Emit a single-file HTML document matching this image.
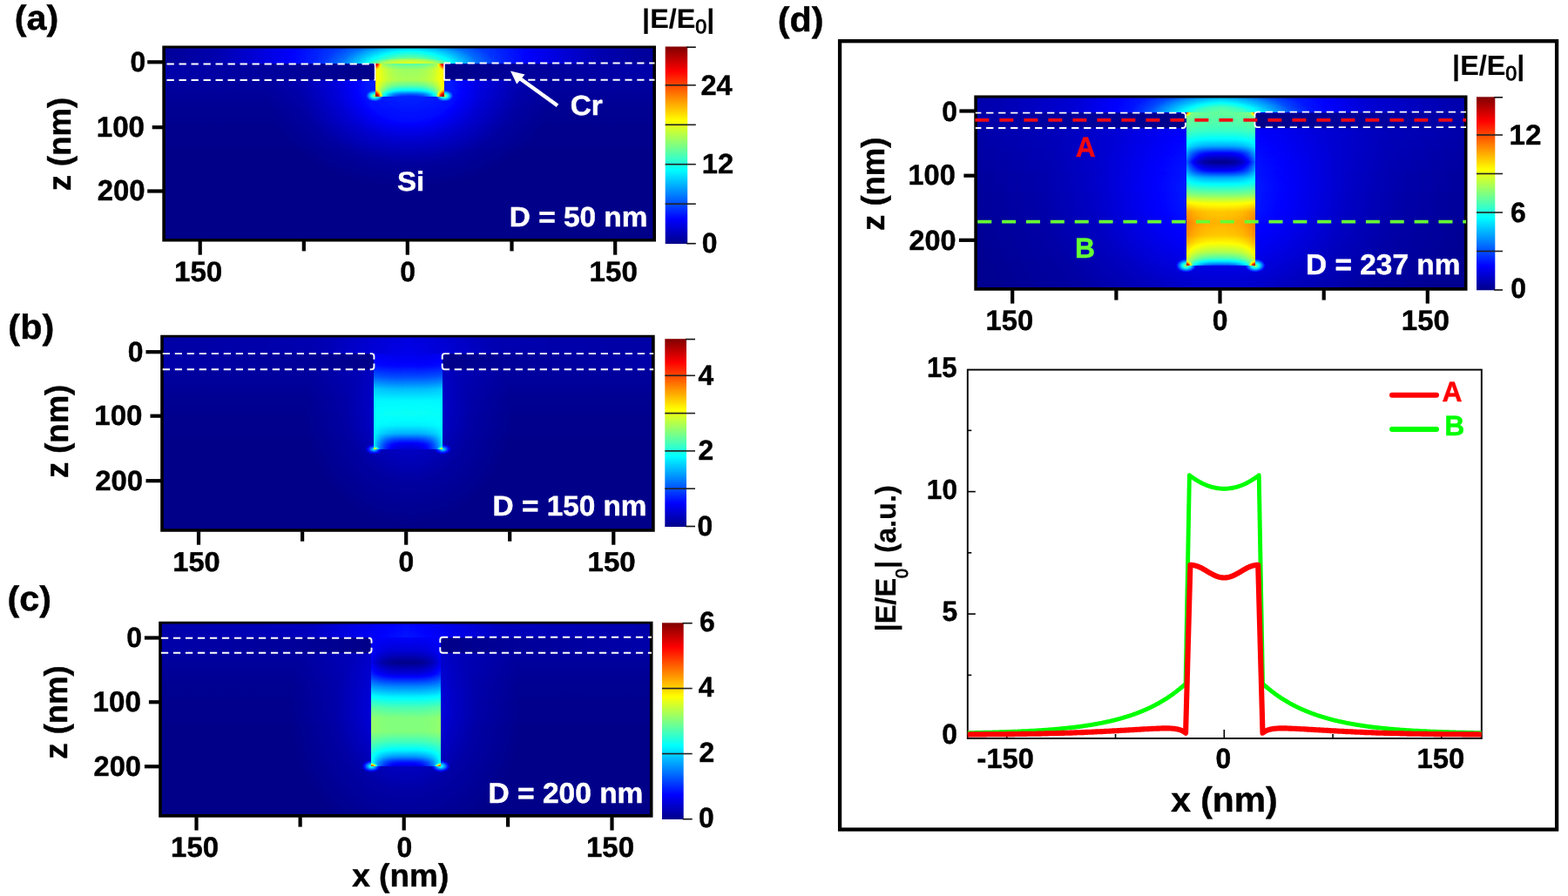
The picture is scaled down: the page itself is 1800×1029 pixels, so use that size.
<!DOCTYPE html>
<html lang="en"><head><meta charset="utf-8"><title>Figure</title>
<style>html,body{margin:0;padding:0;background:#fff;}body{width:1800px;height:1029px;overflow:hidden;font-family:"Liberation Sans",Arial,sans-serif;}svg{display:block;}</style>
</head><body>
<svg width="1800" height="1029" viewBox="0 0 1800 1029">
<defs>
<filter id="jet" x="0" y="0" width="100%" height="100%" filterUnits="objectBoundingBox" color-interpolation-filters="sRGB">
<feComponentTransfer><feFuncR type="table" tableValues="0.000 0.000 0.000 0.000 0.000 0.000 0.000 0.000 0.000 0.000 0.000 0.000 0.000 0.000 0.000 0.000 0.000 0.000 0.000 0.000 0.000 0.000 0.000 0.000 0.000 0.062 0.125 0.188 0.250 0.312 0.375 0.438 0.500 0.562 0.625 0.688 0.750 0.812 0.875 0.938 1.000 1.000 1.000 1.000 1.000 1.000 1.000 1.000 1.000 1.000 1.000 1.000 1.000 1.000 1.000 1.000 1.000 0.938 0.875 0.812 0.750 0.688 0.625 0.562 0.500"/><feFuncG type="table" tableValues="0.000 0.000 0.000 0.000 0.000 0.000 0.000 0.000 0.000 0.062 0.125 0.188 0.250 0.312 0.375 0.438 0.500 0.562 0.625 0.688 0.750 0.812 0.875 0.938 1.000 1.000 1.000 1.000 1.000 1.000 1.000 1.000 1.000 1.000 1.000 1.000 1.000 1.000 1.000 1.000 1.000 0.938 0.875 0.812 0.750 0.688 0.625 0.562 0.500 0.438 0.375 0.312 0.250 0.188 0.125 0.062 0.000 0.000 0.000 0.000 0.000 0.000 0.000 0.000 0.000"/><feFuncB type="table" tableValues="0.540 0.598 0.655 0.713 0.770 0.828 0.885 0.943 1.000 1.000 1.000 1.000 1.000 1.000 1.000 1.000 1.000 1.000 1.000 1.000 1.000 1.000 1.000 1.000 1.000 0.938 0.875 0.812 0.750 0.688 0.625 0.562 0.500 0.438 0.375 0.312 0.250 0.188 0.125 0.062 0.000 0.000 0.000 0.000 0.000 0.000 0.000 0.000 0.000 0.000 0.000 0.000 0.000 0.000 0.000 0.000 0.000 0.000 0.000 0.000 0.000 0.000 0.000 0.000 0.000"/></feComponentTransfer></filter>
<filter id="b1" x="-20%" y="-20%" width="140%" height="140%"><feGaussianBlur stdDeviation="1"/></filter>
<filter id="b2" x="-20%" y="-20%" width="140%" height="140%"><feGaussianBlur stdDeviation="2.5"/></filter>
<linearGradient id="cb" x1="0" y1="1" x2="0" y2="0"><stop offset="0.0000" stop-color="#00008a"/><stop offset="0.0625" stop-color="#0000c4"/><stop offset="0.1250" stop-color="#0000ff"/><stop offset="0.1875" stop-color="#0040ff"/><stop offset="0.2500" stop-color="#0080ff"/><stop offset="0.3125" stop-color="#00bfff"/><stop offset="0.3750" stop-color="#00ffff"/><stop offset="0.4375" stop-color="#40ffbf"/><stop offset="0.5000" stop-color="#80ff80"/><stop offset="0.5625" stop-color="#bfff40"/><stop offset="0.6250" stop-color="#ffff00"/><stop offset="0.6875" stop-color="#ffbf00"/><stop offset="0.7500" stop-color="#ff8000"/><stop offset="0.8125" stop-color="#ff4000"/><stop offset="0.8750" stop-color="#ff0000"/><stop offset="0.9375" stop-color="#bf0000"/><stop offset="1.0000" stop-color="#800000"/></linearGradient>
<clipPath id="clipa"><rect x="188.1" y="54.3" width="563.1" height="221.4"/></clipPath>
<clipPath id="cha"><rect x="431" y="73" width="79" height="38"/></clipPath>
<linearGradient id="vsa" gradientUnits="userSpaceOnUse" x1="0" y1="73.3" x2="0" y2="110.7"><stop offset="0.0000" stop-color="rgb(158,158,158)"/><stop offset="0.1791" stop-color="rgb(166,166,166)"/><stop offset="0.5000" stop-color="rgb(166,166,166)"/><stop offset="0.6872" stop-color="rgb(166,166,166)"/><stop offset="0.8209" stop-color="rgb(168,168,168)"/><stop offset="0.9278" stop-color="rgb(171,171,171)"/><stop offset="1.0000" stop-color="rgb(171,171,171)"/></linearGradient>
<linearGradient id="vca" gradientUnits="userSpaceOnUse" x1="0" y1="73.3" x2="0" y2="110.7"><stop offset="0.0000" stop-color="rgb(117,117,117)"/><stop offset="0.1791" stop-color="rgb(135,135,135)"/><stop offset="0.5000" stop-color="rgb(138,138,138)"/><stop offset="0.6872" stop-color="rgb(117,117,117)"/><stop offset="0.8209" stop-color="rgb(92,92,92)"/><stop offset="0.9278" stop-color="rgb(56,56,56)"/><stop offset="1.0000" stop-color="rgb(41,41,41)"/></linearGradient>
<linearGradient id="mha" gradientUnits="userSpaceOnUse" x1="430.6" y1="0" x2="509.8" y2="0"><stop offset="0.00" stop-color="rgb(0,0,0)"/><stop offset="0.05" stop-color="rgb(69,69,69)"/><stop offset="0.10" stop-color="rgb(124,124,124)"/><stop offset="0.15" stop-color="rgb(168,168,168)"/><stop offset="0.20" stop-color="rgb(200,200,200)"/><stop offset="0.25" stop-color="rgb(223,223,223)"/><stop offset="0.30" stop-color="rgb(239,239,239)"/><stop offset="0.35" stop-color="rgb(248,248,248)"/><stop offset="0.40" stop-color="rgb(253,253,253)"/><stop offset="0.45" stop-color="rgb(255,255,255)"/><stop offset="0.50" stop-color="rgb(255,255,255)"/><stop offset="0.55" stop-color="rgb(255,255,255)"/><stop offset="0.60" stop-color="rgb(253,253,253)"/><stop offset="0.65" stop-color="rgb(248,248,248)"/><stop offset="0.70" stop-color="rgb(239,239,239)"/><stop offset="0.75" stop-color="rgb(223,223,223)"/><stop offset="0.80" stop-color="rgb(200,200,200)"/><stop offset="0.85" stop-color="rgb(168,168,168)"/><stop offset="0.90" stop-color="rgb(124,124,124)"/><stop offset="0.95" stop-color="rgb(69,69,69)"/><stop offset="1.00" stop-color="rgb(0,0,0)"/></linearGradient>
<mask id="ma" maskUnits="userSpaceOnUse" x="427.6" y="70.3" width="85.2" height="43.4"><rect x="427.6" y="70.3" width="85.2" height="43.4" fill="url(#mha)"/></mask>
<linearGradient id="q1" x1="0" y1="0" x2="1" y2="0"><stop offset="0" stop-color="#fff" stop-opacity="0.015"/><stop offset="0.11" stop-color="#fff" stop-opacity="0.04"/><stop offset="0.22" stop-color="#fff" stop-opacity="0.1"/><stop offset="0.33" stop-color="#fff" stop-opacity="0.15"/><stop offset="0.5" stop-color="#fff" stop-opacity="0.17"/><stop offset="0.67" stop-color="#fff" stop-opacity="0.15"/><stop offset="0.78" stop-color="#fff" stop-opacity="0.1"/><stop offset="0.89" stop-color="#fff" stop-opacity="0.04"/><stop offset="1" stop-color="#fff" stop-opacity="0.015"/></linearGradient>
<radialGradient id="q2"><stop offset="0" stop-color="#fff" stop-opacity="0.34"/><stop offset="0.3" stop-color="#fff" stop-opacity="0.28"/><stop offset="0.55" stop-color="#fff" stop-opacity="0.15"/><stop offset="0.8" stop-color="#fff" stop-opacity="0.04"/><stop offset="1" stop-color="#fff" stop-opacity="0"/></radialGradient>
<radialGradient id="q3"><stop offset="0" stop-color="#fff" stop-opacity="0.2"/><stop offset="0.6" stop-color="#fff" stop-opacity="0.16"/><stop offset="0.85" stop-color="#fff" stop-opacity="0.08"/><stop offset="1" stop-color="#fff" stop-opacity="0"/></radialGradient>
<linearGradient id="q4" x1="0" y1="0" x2="0" y2="1"><stop offset="0" stop-color="#fff" stop-opacity="0.025"/><stop offset="0.2" stop-color="#fff" stop-opacity="0.008"/><stop offset="0.5" stop-color="#fff" stop-opacity="0"/></linearGradient>
<radialGradient id="q5"><stop offset="0" stop-color="#fff" stop-opacity="0.15"/><stop offset="0.3" stop-color="#fff" stop-opacity="0.13"/><stop offset="0.5" stop-color="#fff" stop-opacity="0.07"/><stop offset="0.75" stop-color="#fff" stop-opacity="0.02"/><stop offset="1" stop-color="#fff" stop-opacity="0"/></radialGradient>
<radialGradient id="q6"><stop offset="0" stop-color="#fff" stop-opacity="0.5"/><stop offset="0.5" stop-color="#fff" stop-opacity="0.22"/><stop offset="1" stop-color="#fff" stop-opacity="0"/></radialGradient>
<radialGradient id="q7"><stop offset="0" stop-color="#fff" stop-opacity="0.5"/><stop offset="0.5" stop-color="#fff" stop-opacity="0.22"/><stop offset="1" stop-color="#fff" stop-opacity="0"/></radialGradient>
<linearGradient id="fla" gradientUnits="userSpaceOnUse" x1="186.3" y1="0" x2="753" y2="0"><stop offset="0" stop-color="rgb(9,9,9)"/><stop offset="0.3" stop-color="rgb(4,4,4)"/><stop offset="0.42" stop-color="rgb(0,0,0)"/><stop offset="0.58" stop-color="rgb(0,0,0)"/><stop offset="0.7" stop-color="rgb(4,4,4)"/><stop offset="1" stop-color="rgb(9,9,9)"/></linearGradient>
<radialGradient id="sa0"><stop offset="0" stop-color="#fff" stop-opacity="0.85"/><stop offset="0.3" stop-color="#fff" stop-opacity="0.7224999999999999"/><stop offset="0.6" stop-color="#fff" stop-opacity="0.34"/><stop offset="1" stop-color="#fff" stop-opacity="0"/></radialGradient>
<radialGradient id="sa1"><stop offset="0" stop-color="#fff" stop-opacity="0.85"/><stop offset="0.3" stop-color="#fff" stop-opacity="0.7224999999999999"/><stop offset="0.6" stop-color="#fff" stop-opacity="0.34"/><stop offset="1" stop-color="#fff" stop-opacity="0"/></radialGradient>
<radialGradient id="sa2"><stop offset="0" stop-color="#fff" stop-opacity="1"/><stop offset="0.3" stop-color="#fff" stop-opacity="0.85"/><stop offset="0.6" stop-color="#fff" stop-opacity="0.4"/><stop offset="1" stop-color="#fff" stop-opacity="0"/></radialGradient>
<radialGradient id="sa3"><stop offset="0" stop-color="#fff" stop-opacity="1"/><stop offset="0.3" stop-color="#fff" stop-opacity="0.85"/><stop offset="0.6" stop-color="#fff" stop-opacity="0.4"/><stop offset="1" stop-color="#fff" stop-opacity="0"/></radialGradient>
<clipPath id="clipb"><rect x="186" y="386.5" width="563.9" height="222.5"/></clipPath>
<clipPath id="chb"><rect x="429" y="406" width="79" height="110"/></clipPath>
<linearGradient id="vsb" gradientUnits="userSpaceOnUse" x1="0" y1="406.2" x2="0" y2="516.4"><stop offset="0.0000" stop-color="rgb(28,28,28)"/><stop offset="0.1252" stop-color="rgb(36,36,36)"/><stop offset="0.2432" stop-color="rgb(56,56,56)"/><stop offset="0.3702" stop-color="rgb(84,84,84)"/><stop offset="0.4882" stop-color="rgb(94,94,94)"/><stop offset="0.6243" stop-color="rgb(97,97,97)"/><stop offset="0.7423" stop-color="rgb(97,97,97)"/><stop offset="0.8330" stop-color="rgb(94,94,94)"/><stop offset="0.8966" stop-color="rgb(92,92,92)"/><stop offset="0.9419" stop-color="rgb(92,92,92)"/><stop offset="1.0000" stop-color="rgb(92,92,92)"/></linearGradient>
<linearGradient id="vcb" gradientUnits="userSpaceOnUse" x1="0" y1="406.2" x2="0" y2="516.4"><stop offset="0.0000" stop-color="rgb(26,26,26)"/><stop offset="0.1252" stop-color="rgb(33,33,33)"/><stop offset="0.2432" stop-color="rgb(51,51,51)"/><stop offset="0.3702" stop-color="rgb(79,79,79)"/><stop offset="0.4882" stop-color="rgb(94,94,94)"/><stop offset="0.6243" stop-color="rgb(98,98,98)"/><stop offset="0.7423" stop-color="rgb(93,93,93)"/><stop offset="0.8330" stop-color="rgb(76,76,76)"/><stop offset="0.8966" stop-color="rgb(46,46,46)"/><stop offset="0.9419" stop-color="rgb(28,28,28)"/><stop offset="1.0000" stop-color="rgb(20,20,20)"/></linearGradient>
<linearGradient id="mhb" gradientUnits="userSpaceOnUse" x1="429.3" y1="0" x2="508.4" y2="0"><stop offset="0.00" stop-color="rgb(0,0,0)"/><stop offset="0.05" stop-color="rgb(69,69,69)"/><stop offset="0.10" stop-color="rgb(124,124,124)"/><stop offset="0.15" stop-color="rgb(168,168,168)"/><stop offset="0.20" stop-color="rgb(200,200,200)"/><stop offset="0.25" stop-color="rgb(223,223,223)"/><stop offset="0.30" stop-color="rgb(239,239,239)"/><stop offset="0.35" stop-color="rgb(248,248,248)"/><stop offset="0.40" stop-color="rgb(253,253,253)"/><stop offset="0.45" stop-color="rgb(255,255,255)"/><stop offset="0.50" stop-color="rgb(255,255,255)"/><stop offset="0.55" stop-color="rgb(255,255,255)"/><stop offset="0.60" stop-color="rgb(253,253,253)"/><stop offset="0.65" stop-color="rgb(248,248,248)"/><stop offset="0.70" stop-color="rgb(239,239,239)"/><stop offset="0.75" stop-color="rgb(223,223,223)"/><stop offset="0.80" stop-color="rgb(200,200,200)"/><stop offset="0.85" stop-color="rgb(168,168,168)"/><stop offset="0.90" stop-color="rgb(124,124,124)"/><stop offset="0.95" stop-color="rgb(69,69,69)"/><stop offset="1.00" stop-color="rgb(0,0,0)"/></linearGradient>
<mask id="mb" maskUnits="userSpaceOnUse" x="426.3" y="403.2" width="85.1" height="116.2"><rect x="426.3" y="403.2" width="85.1" height="116.2" fill="url(#mhb)"/></mask>
<linearGradient id="q8" x1="0" y1="0" x2="1" y2="0"><stop offset="0" stop-color="#fff" stop-opacity="0.03"/><stop offset="0.3" stop-color="#fff" stop-opacity="0.04"/><stop offset="0.5" stop-color="#fff" stop-opacity="0.075"/><stop offset="0.7" stop-color="#fff" stop-opacity="0.04"/><stop offset="1" stop-color="#fff" stop-opacity="0.03"/></linearGradient>
<linearGradient id="q9" x1="0" y1="0" x2="0" y2="1"><stop offset="0" stop-color="#fff" stop-opacity="0.025"/><stop offset="0.2" stop-color="#fff" stop-opacity="0.008"/><stop offset="0.5" stop-color="#fff" stop-opacity="0"/></linearGradient>
<radialGradient id="q10"><stop offset="0" stop-color="#fff" stop-opacity="0.075"/><stop offset="0.3" stop-color="#fff" stop-opacity="0.065"/><stop offset="0.6" stop-color="#fff" stop-opacity="0.025"/><stop offset="1" stop-color="#fff" stop-opacity="0"/></radialGradient>
<radialGradient id="q11"><stop offset="0" stop-color="#fff" stop-opacity="0.35"/><stop offset="0.5" stop-color="#fff" stop-opacity="0.15"/><stop offset="1" stop-color="#fff" stop-opacity="0"/></radialGradient>
<radialGradient id="q12"><stop offset="0" stop-color="#fff" stop-opacity="0.35"/><stop offset="0.5" stop-color="#fff" stop-opacity="0.15"/><stop offset="1" stop-color="#fff" stop-opacity="0"/></radialGradient>
<linearGradient id="flb" gradientUnits="userSpaceOnUse" x1="184.2" y1="0" x2="751.7" y2="0"><stop offset="0" stop-color="rgb(9,9,9)"/><stop offset="0.3" stop-color="rgb(4,4,4)"/><stop offset="0.42" stop-color="rgb(0,0,0)"/><stop offset="0.58" stop-color="rgb(0,0,0)"/><stop offset="0.7" stop-color="rgb(4,4,4)"/><stop offset="1" stop-color="rgb(9,9,9)"/></linearGradient>
<radialGradient id="sb0"><stop offset="0" stop-color="#fff" stop-opacity="0.5"/><stop offset="0.3" stop-color="#fff" stop-opacity="0.425"/><stop offset="0.6" stop-color="#fff" stop-opacity="0.2"/><stop offset="1" stop-color="#fff" stop-opacity="0"/></radialGradient>
<radialGradient id="sb1"><stop offset="0" stop-color="#fff" stop-opacity="0.5"/><stop offset="0.3" stop-color="#fff" stop-opacity="0.425"/><stop offset="0.6" stop-color="#fff" stop-opacity="0.2"/><stop offset="1" stop-color="#fff" stop-opacity="0"/></radialGradient>
<clipPath id="clipc"><rect x="184" y="715.5" width="563.7" height="221.4"/></clipPath>
<clipPath id="chc"><rect x="426" y="732" width="80" height="148"/></clipPath>
<linearGradient id="vsc" gradientUnits="userSpaceOnUse" x1="0" y1="732.5" x2="0" y2="880.4"><stop offset="0.0000" stop-color="rgb(31,31,31)"/><stop offset="0.1048" stop-color="rgb(31,31,31)"/><stop offset="0.1927" stop-color="rgb(28,28,28)"/><stop offset="0.2806" stop-color="rgb(41,41,41)"/><stop offset="0.3753" stop-color="rgb(71,71,71)"/><stop offset="0.4564" stop-color="rgb(97,97,97)"/><stop offset="0.5443" stop-color="rgb(120,120,120)"/><stop offset="0.6254" stop-color="rgb(133,133,133)"/><stop offset="0.7268" stop-color="rgb(133,133,133)"/><stop offset="0.8080" stop-color="rgb(120,120,120)"/><stop offset="0.8756" stop-color="rgb(107,107,107)"/><stop offset="0.9229" stop-color="rgb(102,102,102)"/><stop offset="0.9635" stop-color="rgb(102,102,102)"/><stop offset="1.0000" stop-color="rgb(102,102,102)"/></linearGradient>
<linearGradient id="vcc" gradientUnits="userSpaceOnUse" x1="0" y1="732.5" x2="0" y2="880.4"><stop offset="0.0000" stop-color="rgb(31,31,31)"/><stop offset="0.1048" stop-color="rgb(20,20,20)"/><stop offset="0.1927" stop-color="rgb(0,0,0)"/><stop offset="0.2806" stop-color="rgb(23,23,23)"/><stop offset="0.3753" stop-color="rgb(64,64,64)"/><stop offset="0.4564" stop-color="rgb(92,92,92)"/><stop offset="0.5443" stop-color="rgb(115,115,115)"/><stop offset="0.6254" stop-color="rgb(128,128,128)"/><stop offset="0.7268" stop-color="rgb(128,128,128)"/><stop offset="0.8080" stop-color="rgb(112,112,112)"/><stop offset="0.8756" stop-color="rgb(92,92,92)"/><stop offset="0.9229" stop-color="rgb(69,69,69)"/><stop offset="0.9635" stop-color="rgb(38,38,38)"/><stop offset="1.0000" stop-color="rgb(23,23,23)"/></linearGradient>
<linearGradient id="mhc" gradientUnits="userSpaceOnUse" x1="426.3" y1="0" x2="506" y2="0"><stop offset="0.00" stop-color="rgb(0,0,0)"/><stop offset="0.05" stop-color="rgb(69,69,69)"/><stop offset="0.10" stop-color="rgb(124,124,124)"/><stop offset="0.15" stop-color="rgb(168,168,168)"/><stop offset="0.20" stop-color="rgb(200,200,200)"/><stop offset="0.25" stop-color="rgb(223,223,223)"/><stop offset="0.30" stop-color="rgb(239,239,239)"/><stop offset="0.35" stop-color="rgb(248,248,248)"/><stop offset="0.40" stop-color="rgb(253,253,253)"/><stop offset="0.45" stop-color="rgb(255,255,255)"/><stop offset="0.50" stop-color="rgb(255,255,255)"/><stop offset="0.55" stop-color="rgb(255,255,255)"/><stop offset="0.60" stop-color="rgb(253,253,253)"/><stop offset="0.65" stop-color="rgb(248,248,248)"/><stop offset="0.70" stop-color="rgb(239,239,239)"/><stop offset="0.75" stop-color="rgb(223,223,223)"/><stop offset="0.80" stop-color="rgb(200,200,200)"/><stop offset="0.85" stop-color="rgb(168,168,168)"/><stop offset="0.90" stop-color="rgb(124,124,124)"/><stop offset="0.95" stop-color="rgb(69,69,69)"/><stop offset="1.00" stop-color="rgb(0,0,0)"/></linearGradient>
<mask id="mc" maskUnits="userSpaceOnUse" x="423.3" y="729.5" width="85.7" height="153.9"><rect x="423.3" y="729.5" width="85.7" height="153.9" fill="url(#mhc)"/></mask>
<linearGradient id="q13" x1="0" y1="0" x2="1" y2="0"><stop offset="0" stop-color="#fff" stop-opacity="0.035"/><stop offset="0.3" stop-color="#fff" stop-opacity="0.055"/><stop offset="0.5" stop-color="#fff" stop-opacity="0.11"/><stop offset="0.7" stop-color="#fff" stop-opacity="0.055"/><stop offset="1" stop-color="#fff" stop-opacity="0.035"/></linearGradient>
<linearGradient id="q14" x1="0" y1="0" x2="0" y2="1"><stop offset="0" stop-color="#fff" stop-opacity="0.025"/><stop offset="0.2" stop-color="#fff" stop-opacity="0.008"/><stop offset="0.5" stop-color="#fff" stop-opacity="0"/></linearGradient>
<radialGradient id="q15"><stop offset="0" stop-color="#fff" stop-opacity="0.1"/><stop offset="0.3" stop-color="#fff" stop-opacity="0.08"/><stop offset="0.6" stop-color="#fff" stop-opacity="0.03"/><stop offset="1" stop-color="#fff" stop-opacity="0"/></radialGradient>
<radialGradient id="q16"><stop offset="0" stop-color="#fff" stop-opacity="0.4"/><stop offset="0.5" stop-color="#fff" stop-opacity="0.2"/><stop offset="1" stop-color="#fff" stop-opacity="0"/></radialGradient>
<radialGradient id="q17"><stop offset="0" stop-color="#fff" stop-opacity="0.4"/><stop offset="0.5" stop-color="#fff" stop-opacity="0.2"/><stop offset="1" stop-color="#fff" stop-opacity="0"/></radialGradient>
<linearGradient id="flc" gradientUnits="userSpaceOnUse" x1="182.2" y1="0" x2="749.5" y2="0"><stop offset="0" stop-color="rgb(9,9,9)"/><stop offset="0.3" stop-color="rgb(4,4,4)"/><stop offset="0.42" stop-color="rgb(0,0,0)"/><stop offset="0.58" stop-color="rgb(0,0,0)"/><stop offset="0.7" stop-color="rgb(4,4,4)"/><stop offset="1" stop-color="rgb(9,9,9)"/></linearGradient>
<radialGradient id="sc0"><stop offset="0" stop-color="#fff" stop-opacity="0.8"/><stop offset="0.3" stop-color="#fff" stop-opacity="0.68"/><stop offset="0.6" stop-color="#fff" stop-opacity="0.32000000000000006"/><stop offset="1" stop-color="#fff" stop-opacity="0"/></radialGradient>
<radialGradient id="sc1"><stop offset="0" stop-color="#fff" stop-opacity="0.8"/><stop offset="0.3" stop-color="#fff" stop-opacity="0.68"/><stop offset="0.6" stop-color="#fff" stop-opacity="0.32000000000000006"/><stop offset="1" stop-color="#fff" stop-opacity="0"/></radialGradient>
<clipPath id="clipd"><rect x="1120.1" y="111.3" width="562.6" height="220.6"/></clipPath>
<clipPath id="chd"><rect x="1362" y="129" width="79" height="176"/></clipPath>
<linearGradient id="vsd" gradientUnits="userSpaceOnUse" x1="0" y1="129.2" x2="0" y2="305.2"><stop offset="0.0000" stop-color="rgb(133,133,133)"/><stop offset="0.0614" stop-color="rgb(122,122,122)"/><stop offset="0.1182" stop-color="rgb(115,115,115)"/><stop offset="0.1750" stop-color="rgb(102,102,102)"/><stop offset="0.2205" stop-color="rgb(92,92,92)"/><stop offset="0.2659" stop-color="rgb(76,76,76)"/><stop offset="0.3227" stop-color="rgb(61,61,61)"/><stop offset="0.3795" stop-color="rgb(76,76,76)"/><stop offset="0.4250" stop-color="rgb(92,92,92)"/><stop offset="0.4705" stop-color="rgb(105,105,105)"/><stop offset="0.5386" stop-color="rgb(133,133,133)"/><stop offset="0.5898" stop-color="rgb(163,163,163)"/><stop offset="0.6466" stop-color="rgb(186,186,186)"/><stop offset="0.7205" stop-color="rgb(194,194,194)"/><stop offset="0.8000" stop-color="rgb(189,189,189)"/><stop offset="0.8568" stop-color="rgb(178,178,178)"/><stop offset="0.9136" stop-color="rgb(163,163,163)"/><stop offset="0.9534" stop-color="rgb(153,153,153)"/><stop offset="0.9818" stop-color="rgb(148,148,148)"/><stop offset="1.0000" stop-color="rgb(148,148,148)"/></linearGradient>
<linearGradient id="vcd" gradientUnits="userSpaceOnUse" x1="0" y1="129.2" x2="0" y2="305.2"><stop offset="0.0000" stop-color="rgb(120,120,120)"/><stop offset="0.0614" stop-color="rgb(117,117,117)"/><stop offset="0.1182" stop-color="rgb(110,110,110)"/><stop offset="0.1750" stop-color="rgb(94,94,94)"/><stop offset="0.2205" stop-color="rgb(74,74,74)"/><stop offset="0.2659" stop-color="rgb(31,31,31)"/><stop offset="0.3227" stop-color="rgb(0,0,0)"/><stop offset="0.3795" stop-color="rgb(31,31,31)"/><stop offset="0.4250" stop-color="rgb(74,74,74)"/><stop offset="0.4705" stop-color="rgb(97,97,97)"/><stop offset="0.5386" stop-color="rgb(128,128,128)"/><stop offset="0.5898" stop-color="rgb(156,156,156)"/><stop offset="0.6466" stop-color="rgb(173,173,173)"/><stop offset="0.7205" stop-color="rgb(178,178,178)"/><stop offset="0.8000" stop-color="rgb(173,173,173)"/><stop offset="0.8568" stop-color="rgb(158,158,158)"/><stop offset="0.9136" stop-color="rgb(138,138,138)"/><stop offset="0.9534" stop-color="rgb(112,112,112)"/><stop offset="0.9818" stop-color="rgb(76,76,76)"/><stop offset="1.0000" stop-color="rgb(46,46,46)"/></linearGradient>
<linearGradient id="mhd" gradientUnits="userSpaceOnUse" x1="1361.7" y1="0" x2="1441" y2="0"><stop offset="0.00" stop-color="rgb(0,0,0)"/><stop offset="0.05" stop-color="rgb(69,69,69)"/><stop offset="0.10" stop-color="rgb(124,124,124)"/><stop offset="0.15" stop-color="rgb(168,168,168)"/><stop offset="0.20" stop-color="rgb(200,200,200)"/><stop offset="0.25" stop-color="rgb(223,223,223)"/><stop offset="0.30" stop-color="rgb(239,239,239)"/><stop offset="0.35" stop-color="rgb(248,248,248)"/><stop offset="0.40" stop-color="rgb(253,253,253)"/><stop offset="0.45" stop-color="rgb(255,255,255)"/><stop offset="0.50" stop-color="rgb(255,255,255)"/><stop offset="0.55" stop-color="rgb(255,255,255)"/><stop offset="0.60" stop-color="rgb(253,253,253)"/><stop offset="0.65" stop-color="rgb(248,248,248)"/><stop offset="0.70" stop-color="rgb(239,239,239)"/><stop offset="0.75" stop-color="rgb(223,223,223)"/><stop offset="0.80" stop-color="rgb(200,200,200)"/><stop offset="0.85" stop-color="rgb(168,168,168)"/><stop offset="0.90" stop-color="rgb(124,124,124)"/><stop offset="0.95" stop-color="rgb(69,69,69)"/><stop offset="1.00" stop-color="rgb(0,0,0)"/></linearGradient>
<mask id="md" maskUnits="userSpaceOnUse" x="1358.7" y="126.2" width="85.3" height="182"><rect x="1358.7" y="126.2" width="85.3" height="182" fill="url(#mhd)"/></mask>
<linearGradient id="q18" x1="0" y1="0" x2="1" y2="0"><stop offset="0" stop-color="#fff" stop-opacity="0.03"/><stop offset="0.2" stop-color="#fff" stop-opacity="0.055"/><stop offset="0.35" stop-color="#fff" stop-opacity="0.11"/><stop offset="0.5" stop-color="#fff" stop-opacity="0.17"/><stop offset="0.65" stop-color="#fff" stop-opacity="0.11"/><stop offset="0.8" stop-color="#fff" stop-opacity="0.055"/><stop offset="1" stop-color="#fff" stop-opacity="0.03"/></linearGradient>
<radialGradient id="q19"><stop offset="0" stop-color="#fff" stop-opacity="0.33"/><stop offset="0.3" stop-color="#fff" stop-opacity="0.28"/><stop offset="0.55" stop-color="#fff" stop-opacity="0.15"/><stop offset="0.8" stop-color="#fff" stop-opacity="0.04"/><stop offset="1" stop-color="#fff" stop-opacity="0"/></radialGradient>
<linearGradient id="q20" x1="0" y1="0" x2="0" y2="1"><stop offset="0" stop-color="#fff" stop-opacity="0.03"/><stop offset="0.3" stop-color="#fff" stop-opacity="0.012"/><stop offset="0.7" stop-color="#fff" stop-opacity="0.003"/><stop offset="1" stop-color="#fff" stop-opacity="0"/></linearGradient>
<radialGradient id="q21"><stop offset="0" stop-color="#fff" stop-opacity="0.15"/><stop offset="0.14" stop-color="#fff" stop-opacity="0.135"/><stop offset="0.3" stop-color="#fff" stop-opacity="0.1"/><stop offset="0.5" stop-color="#fff" stop-opacity="0.05"/><stop offset="0.7" stop-color="#fff" stop-opacity="0.02"/><stop offset="1" stop-color="#fff" stop-opacity="0"/></radialGradient>
<radialGradient id="q22"><stop offset="0" stop-color="#fff" stop-opacity="0.5"/><stop offset="0.5" stop-color="#fff" stop-opacity="0.25"/><stop offset="1" stop-color="#fff" stop-opacity="0"/></radialGradient>
<radialGradient id="q23"><stop offset="0" stop-color="#fff" stop-opacity="0.5"/><stop offset="0.5" stop-color="#fff" stop-opacity="0.25"/><stop offset="1" stop-color="#fff" stop-opacity="0"/></radialGradient>
<linearGradient id="fld" gradientUnits="userSpaceOnUse" x1="1118.3" y1="0" x2="1684.5" y2="0"><stop offset="0" stop-color="rgb(9,9,9)"/><stop offset="0.3" stop-color="rgb(4,4,4)"/><stop offset="0.42" stop-color="rgb(0,0,0)"/><stop offset="0.58" stop-color="rgb(0,0,0)"/><stop offset="0.7" stop-color="rgb(4,4,4)"/><stop offset="1" stop-color="rgb(9,9,9)"/></linearGradient>
<radialGradient id="sd0"><stop offset="0" stop-color="#fff" stop-opacity="1"/><stop offset="0.3" stop-color="#fff" stop-opacity="0.85"/><stop offset="0.6" stop-color="#fff" stop-opacity="0.4"/><stop offset="1" stop-color="#fff" stop-opacity="0"/></radialGradient>
<radialGradient id="sd1"><stop offset="0" stop-color="#fff" stop-opacity="1"/><stop offset="0.3" stop-color="#fff" stop-opacity="0.85"/><stop offset="0.6" stop-color="#fff" stop-opacity="0.4"/><stop offset="1" stop-color="#fff" stop-opacity="0"/></radialGradient>
<radialGradient id="sd2"><stop offset="0" stop-color="#fff" stop-opacity="0.6"/><stop offset="0.3" stop-color="#fff" stop-opacity="0.51"/><stop offset="0.6" stop-color="#fff" stop-opacity="0.24"/><stop offset="1" stop-color="#fff" stop-opacity="0"/></radialGradient>
<radialGradient id="sd3"><stop offset="0" stop-color="#fff" stop-opacity="0.6"/><stop offset="0.3" stop-color="#fff" stop-opacity="0.51"/><stop offset="0.6" stop-color="#fff" stop-opacity="0.24"/><stop offset="1" stop-color="#fff" stop-opacity="0"/></radialGradient>
<clipPath id="clipP"><rect x="1110.8" y="424.6" width="590" height="425.4"/></clipPath>
</defs>
<rect width="1800" height="1029" fill="#fff"/>
<g clip-path="url(#clipa)"><g filter="url(#jet)">
<rect x="181.3" y="47.5" width="576.7" height="235" fill="rgb(0,0,0)"/>
<rect x="186" y="52" width="568" height="22" fill="url(#q1)"/>
<ellipse cx="470" cy="77" rx="100" ry="36" fill="url(#q2)"/>
<ellipse cx="470" cy="74.5" rx="54" ry="8" fill="url(#q3)"/>
<rect x="181.3" y="73.3" width="576.7" height="209.2" fill="rgb(0,0,0)"/>
<rect x="186" y="91.8" width="568" height="186.2" fill="url(#q4)"/>
<ellipse cx="470" cy="106" rx="165" ry="110" fill="url(#q5)"/>
<ellipse cx="430.2" cy="110" rx="10" ry="6.5" fill="url(#q6)"/>
<ellipse cx="510.2" cy="110" rx="10" ry="6.5" fill="url(#q7)"/>
<rect x="186.3" y="73.3" width="244.3" height="18.5" fill="url(#fla)"/>
<rect x="509.8" y="73.3" width="243.2" height="18.5" fill="url(#fla)"/>
<g clip-path="url(#cha)">
<rect x="428.6" y="71.3" width="83.2" height="41.4" fill="url(#vsa)"/>
<rect x="428.6" y="71.3" width="83.2" height="41.4" fill="url(#vca)" mask="url(#ma)"/>
<ellipse cx="430.6" cy="73.3" rx="8" ry="7" fill="url(#sa0)"/>
<ellipse cx="509.8" cy="73.3" rx="8" ry="7" fill="url(#sa1)"/>
<ellipse cx="431" cy="110.7" rx="9" ry="8" fill="url(#sa2)"/>
<ellipse cx="509.4" cy="110.7" rx="9" ry="8" fill="url(#sa3)"/>
</g>
</g></g>
<path d="M186.3 52.5 H753 V277.5 H186.3 Z M189.9 55.4 V273.9 H749.4 V55.4 Z" fill="#000" fill-rule="evenodd"/>
<rect x="169.2" y="69.2" width="17.8" height="4.2" fill="#000"/>
<rect x="174.7" y="144.1" width="12.3" height="4.2" fill="#000"/>
<rect x="169.2" y="217.4" width="17.8" height="4.2" fill="#000"/>
<rect x="227.6" y="277" width="4.2" height="15.7" fill="#000"/>
<rect x="346.7" y="277" width="4.2" height="11.4" fill="#000"/>
<rect x="465.7" y="277" width="4.2" height="15.7" fill="#000"/>
<rect x="585.4" y="277" width="4.2" height="11.4" fill="#000"/>
<rect x="704.1" y="277" width="4.2" height="15.7" fill="#000"/>
<line x1="187.8" y1="73.5" x2="430.6" y2="73.5" stroke="#fff" stroke-width="2" stroke-dasharray="8.3 5.7" stroke-dashoffset="-3.7" opacity="1"/>
<line x1="187.8" y1="92.1" x2="430.6" y2="92.1" stroke="#fff" stroke-width="2" stroke-dasharray="8.3 5.7" stroke-dashoffset="-3.7" opacity="1"/>
<line x1="509.8" y1="72.5" x2="751.5" y2="72.5" stroke="#fff" stroke-width="2" stroke-dasharray="8.2 5.7" stroke-dashoffset="0.9" opacity="1"/>
<line x1="509.8" y1="91.8" x2="751.5" y2="91.8" stroke="#fff" stroke-width="2" stroke-dasharray="8.2 5.7" stroke-dashoffset="0.9" opacity="1"/>
<rect x="429.8" y="73" width="1.6" height="19" fill="#fff"/>
<rect x="509.2" y="73" width="1.6" height="19" fill="#fff"/>
<rect x="763.7" y="53.5" width="25.5" height="226.5" fill="url(#cb)"/>
<rect x="788.2" y="53.4" width="10.6" height="1.6" fill="#111"/>
<rect x="763.7" y="97" width="35.1" height="1.6" fill="#222"/>
<rect x="763.7" y="142.5" width="35.1" height="1.6" fill="#222"/>
<rect x="763.7" y="187.9" width="35.1" height="1.6" fill="#222"/>
<rect x="763.7" y="233.4" width="35.1" height="1.6" fill="#222"/>
<rect x="788.2" y="278.9" width="10.6" height="1.6" fill="#111"/>
<line x1="640" y1="121.3" x2="596" y2="89.5" stroke="#fff" stroke-width="4.4"/>
<polygon points="586,81.6 602.5,85.5 593.2,96.5" fill="#fff"/>
<g clip-path="url(#clipb)"><g filter="url(#jet)">
<rect x="179.2" y="379.7" width="577.5" height="236.1" fill="rgb(0,0,0)"/>
<rect x="184" y="384" width="568" height="23" fill="url(#q8)"/>
<rect x="179.2" y="406.2" width="577.5" height="209.6" fill="rgb(0,0,0)"/>
<rect x="184" y="424" width="568" height="187" fill="url(#q9)"/>
<ellipse cx="469" cy="475" rx="120" ry="130" fill="url(#q10)"/>
<ellipse cx="429.3" cy="516" rx="10" ry="6" fill="url(#q11)"/>
<ellipse cx="508.4" cy="516" rx="10" ry="6" fill="url(#q12)"/>
<rect x="184.2" y="406.2" width="245.1" height="18.3" fill="url(#flb)"/>
<rect x="508.4" y="406.2" width="243.3" height="18.3" fill="url(#flb)"/>
<g clip-path="url(#chb)">
<rect x="427.3" y="404.2" width="83.1" height="114.2" fill="url(#vsb)"/>
<rect x="427.3" y="404.2" width="83.1" height="114.2" fill="url(#vcb)" mask="url(#mb)"/>
<ellipse cx="430" cy="516.4" rx="6" ry="4" fill="url(#sb0)"/>
<ellipse cx="507.7" cy="516.4" rx="6" ry="4" fill="url(#sb1)"/>
</g>
</g></g>
<path d="M184.2 384.7 H751.7 V610.8 H184.2 Z M187.8 387.6 V607.2 H748.1 V387.6 Z" fill="#000" fill-rule="evenodd"/>
<rect x="167.5" y="402.1" width="17.5" height="4.2" fill="#000"/>
<rect x="172.5" y="475.6" width="12.5" height="4.2" fill="#000"/>
<rect x="167.5" y="550.1" width="17.5" height="4.2" fill="#000"/>
<rect x="225.9" y="610.3" width="4.2" height="15.4" fill="#000"/>
<rect x="345" y="610.3" width="4.2" height="11.4" fill="#000"/>
<rect x="464.1" y="610.3" width="4.2" height="15.4" fill="#000"/>
<rect x="583.1" y="610.3" width="4.2" height="11.4" fill="#000"/>
<rect x="702.2" y="610.3" width="4.2" height="15.4" fill="#000"/>
<path d="M429.4 412.8 V409.1 Q429.4 406.1 426.4 406.1 H424.7" fill="none" stroke="#fff" stroke-width="1.9"/><line x1="419" y1="406.1" x2="185.7" y2="406.1" stroke="#fff" stroke-width="1.9" stroke-dasharray="8.3 5.7"/><path d="M429.4 417.6 V421.3 Q429.4 424.3 426.4 424.3 H424.7" fill="none" stroke="#fff" stroke-width="1.9"/><line x1="419" y1="424.3" x2="185.7" y2="424.3" stroke="#fff" stroke-width="1.9" stroke-dasharray="8.3 5.7"/>
<path d="M507.7 412.8 V409.1 Q507.7 406.1 510.7 406.1 H516" fill="none" stroke="#fff" stroke-width="1.9"/><line x1="521.7" y1="406.1" x2="750.2" y2="406.1" stroke="#fff" stroke-width="1.9" stroke-dasharray="8.3 5.7"/><path d="M507.7 417.6 V421.3 Q507.7 424.3 510.7 424.3 H516" fill="none" stroke="#fff" stroke-width="1.9"/><line x1="521.7" y1="424.3" x2="750.2" y2="424.3" stroke="#fff" stroke-width="1.9" stroke-dasharray="8.3 5.7"/>
<rect x="763.3" y="389.2" width="24.7" height="215.8" fill="url(#cb)"/>
<rect x="787" y="388.8" width="11" height="1.6" fill="#111"/>
<rect x="763.3" y="430.5" width="34.7" height="1.6" fill="#222"/>
<rect x="763.3" y="473.8" width="34.7" height="1.6" fill="#222"/>
<rect x="763.3" y="517.1" width="34.7" height="1.6" fill="#222"/>
<rect x="763.3" y="560.4" width="34.7" height="1.6" fill="#222"/>
<rect x="787" y="603.7" width="11" height="1.6" fill="#111"/>
<g clip-path="url(#clipc)"><g filter="url(#jet)">
<rect x="177.2" y="708.7" width="577.3" height="235" fill="rgb(0,0,0)"/>
<rect x="182" y="713" width="568" height="20" fill="url(#q13)"/>
<rect x="177.2" y="732.5" width="577.3" height="211.2" fill="rgb(0,0,0)"/>
<rect x="182" y="750" width="568" height="189" fill="url(#q14)"/>
<ellipse cx="466" cy="815" rx="135" ry="155" fill="url(#q15)"/>
<ellipse cx="426.3" cy="880" rx="11" ry="7" fill="url(#q16)"/>
<ellipse cx="506" cy="880" rx="11" ry="7" fill="url(#q17)"/>
<rect x="182.2" y="732.5" width="244.1" height="17.5" fill="url(#flc)"/>
<rect x="506" y="732.5" width="243.5" height="17.5" fill="url(#flc)"/>
<g clip-path="url(#chc)">
<rect x="424.3" y="730.5" width="83.7" height="151.9" fill="url(#vsc)"/>
<rect x="424.3" y="730.5" width="83.7" height="151.9" fill="url(#vcc)" mask="url(#mc)"/>
<ellipse cx="427" cy="880.4" rx="7" ry="4.5" fill="url(#sc0)"/>
<ellipse cx="505.3" cy="880.4" rx="7" ry="4.5" fill="url(#sc1)"/>
</g>
</g></g>
<path d="M182.2 713.7 H749.5 V938.7 H182.2 Z M185.8 716.6 V935.1 H745.9 V716.6 Z" fill="#000" fill-rule="evenodd"/>
<rect x="165.9" y="730.4" width="17.1" height="4.2" fill="#000"/>
<rect x="170.9" y="804.2" width="12.1" height="4.2" fill="#000"/>
<rect x="165.9" y="878.2" width="17.1" height="4.2" fill="#000"/>
<rect x="223.4" y="938.2" width="4.2" height="15.4" fill="#000"/>
<rect x="342.5" y="938.2" width="4.2" height="11.4" fill="#000"/>
<rect x="461.6" y="938.2" width="4.2" height="15.4" fill="#000"/>
<rect x="581" y="938.2" width="4.2" height="11.4" fill="#000"/>
<rect x="700.4" y="938.2" width="4.2" height="15.4" fill="#000"/>
<path d="M426.5 738.85 V735.7 Q426.5 732.7 423.5 732.7 H422.9" fill="none" stroke="#fff" stroke-width="1.9"/><line x1="417.2" y1="732.7" x2="183.7" y2="732.7" stroke="#fff" stroke-width="1.9" stroke-dasharray="8.3 5.7"/><path d="M426.5 743.65 V746.8 Q426.5 749.8 423.5 749.8 H422.9" fill="none" stroke="#fff" stroke-width="1.9"/><line x1="417.2" y1="749.8" x2="183.7" y2="749.8" stroke="#fff" stroke-width="1.9" stroke-dasharray="8.3 5.7"/>
<path d="M505.3 738.35 V734.7 Q505.3 731.7 508.3 731.7 H514.2" fill="none" stroke="#fff" stroke-width="1.9"/><line x1="519.9" y1="731.7" x2="748" y2="731.7" stroke="#fff" stroke-width="1.9" stroke-dasharray="8.3 5.7"/><path d="M505.3 743.15 V746.8 Q505.3 749.8 508.3 749.8 H514.2" fill="none" stroke="#fff" stroke-width="1.9"/><line x1="519.9" y1="749.8" x2="748" y2="749.8" stroke="#fff" stroke-width="1.9" stroke-dasharray="8.3 5.7"/>
<rect x="760" y="715.3" width="24.7" height="225.7" fill="url(#cb)"/>
<rect x="783.7" y="714.9" width="11" height="1.6" fill="#111"/>
<rect x="760" y="789.8" width="34.7" height="1.6" fill="#222"/>
<rect x="760" y="864.8" width="34.7" height="1.6" fill="#222"/>
<rect x="783.7" y="939.9" width="11" height="1.6" fill="#111"/>
<rect x="964.1" y="47.2" width="823" height="905.4" fill="none" stroke="#000" stroke-width="4.3"/>
<g clip-path="url(#clipd)"><g filter="url(#jet)">
<rect x="1113.3" y="104.5" width="576.2" height="234.2" fill="rgb(2,2,2)"/>
<rect x="1118" y="109" width="567" height="21" fill="url(#q18)"/>
<ellipse cx="1401" cy="133" rx="105" ry="32" fill="url(#q19)"/>
<rect x="1113.3" y="129.5" width="576.2" height="209.2" fill="rgb(2,2,2)"/>
<rect x="1118" y="147" width="567" height="187" fill="url(#q20)"/>
<ellipse cx="1401" cy="225" rx="290" ry="240" fill="url(#q21)"/>
<ellipse cx="1361.7" cy="305" rx="12" ry="8" fill="url(#q22)"/>
<ellipse cx="1441" cy="305" rx="12" ry="8" fill="url(#q23)"/>
<rect x="1118.3" y="129.5" width="243.4" height="17.7" fill="url(#fld)"/>
<rect x="1441" y="129.5" width="243.5" height="17.7" fill="url(#fld)"/>
<g clip-path="url(#chd)">
<rect x="1359.7" y="127.2" width="83.3" height="180" fill="url(#vsd)"/>
<rect x="1359.7" y="127.2" width="83.3" height="180" fill="url(#vcd)" mask="url(#md)"/>
<ellipse cx="1361.7" cy="305.2" rx="8" ry="6" fill="url(#sd0)"/>
<ellipse cx="1441" cy="305.2" rx="8" ry="6" fill="url(#sd1)"/>
<ellipse cx="1361.7" cy="129.2" rx="6" ry="5" fill="url(#sd2)"/>
<ellipse cx="1441" cy="129.2" rx="6" ry="5" fill="url(#sd3)"/>
</g>
</g></g>
<path d="M1118.3 109.5 H1684.5 V333.7 H1118.3 Z M1121.9 112.4 V330.1 H1680.9 V112.4 Z" fill="#000" fill-rule="evenodd"/>
<rect x="1101.4" y="125.4" width="17.6" height="4.2" fill="#000"/>
<rect x="1106.4" y="199.6" width="12.6" height="4.2" fill="#000"/>
<rect x="1100.9" y="273.7" width="18.1" height="4.2" fill="#000"/>
<rect x="1160.1" y="333.2" width="4.2" height="15.4" fill="#000"/>
<rect x="1279.3" y="333.2" width="4.2" height="11.4" fill="#000"/>
<rect x="1398.4" y="333.2" width="4.2" height="15.4" fill="#000"/>
<rect x="1517.6" y="333.2" width="4.2" height="11.4" fill="#000"/>
<rect x="1636.7" y="333.2" width="4.2" height="15.4" fill="#000"/>
<path d="M1360.9 135.9 V132.6 Q1360.9 129.6 1357.9 129.6 H1356.1" fill="none" stroke="#fff" stroke-width="1.8"/><line x1="1350.4" y1="129.6" x2="1119.8" y2="129.6" stroke="#fff" stroke-width="1.8" stroke-dasharray="8.3 5.7"/><path d="M1360.9 140.7 V144 Q1360.9 147 1357.9 147 H1356.1" fill="none" stroke="#fff" stroke-width="1.8"/><line x1="1350.4" y1="147" x2="1119.8" y2="147" stroke="#fff" stroke-width="1.8" stroke-dasharray="8.3 5.7"/>
<path d="M1440.5 134.95 V131.6 Q1440.5 128.6 1443.5 128.6 H1447" fill="none" stroke="#fff" stroke-width="1.8"/><line x1="1452.7" y1="128.6" x2="1683" y2="128.6" stroke="#fff" stroke-width="1.8" stroke-dasharray="8.3 5.7"/><path d="M1440.5 139.75 V143.1 Q1440.5 146.1 1443.5 146.1 H1447" fill="none" stroke="#fff" stroke-width="1.8"/><line x1="1452.7" y1="146.1" x2="1683" y2="146.1" stroke="#fff" stroke-width="1.8" stroke-dasharray="8.3 5.7"/>
<line x1="1119.4" y1="137.9" x2="1683" y2="137.9" stroke="#f00812" stroke-width="3.8" stroke-dasharray="16 12" stroke-dashoffset="0" opacity="1"/>
<line x1="1122.3" y1="254.7" x2="1683" y2="254.7" stroke="#66ff33" stroke-width="3.8" stroke-dasharray="16 11.85" stroke-dashoffset="0" opacity="1"/>
<rect x="1695" y="111.3" width="21.3" height="222" fill="url(#cb)"/>
<rect x="1715.3" y="111" width="9.7" height="1.6" fill="#111"/>
<rect x="1695" y="154.2" width="30" height="1.6" fill="#222"/>
<rect x="1695" y="198.7" width="30" height="1.6" fill="#222"/>
<rect x="1695" y="243.2" width="30" height="1.6" fill="#222"/>
<rect x="1695" y="287.7" width="30" height="1.6" fill="#222"/>
<rect x="1715.3" y="332.2" width="9.7" height="1.6" fill="#111"/>
<rect x="1110.8" y="424.6" width="590" height="423.4" fill="none" stroke="#000" stroke-width="1.9"/>
<rect x="1110.8" y="774.55" width="4.5" height="1.6" fill="#000"/>
<rect x="1110.8" y="704.3" width="9" height="1.6" fill="#000"/>
<rect x="1110.8" y="634.05" width="4.5" height="1.6" fill="#000"/>
<rect x="1110.8" y="563.8" width="9" height="1.6" fill="#000"/>
<rect x="1110.8" y="493.55" width="4.5" height="1.6" fill="#000"/>
<rect x="1155" y="838" width="1.6" height="10" fill="#000"/>
<rect x="1279.75" y="843" width="1.6" height="5" fill="#000"/>
<rect x="1404.5" y="838" width="1.6" height="10" fill="#000"/>
<rect x="1529.25" y="843" width="1.6" height="5" fill="#000"/>
<rect x="1654" y="838" width="1.6" height="10" fill="#000"/>
<g clip-path="url(#clipP)" fill="none" stroke-linejoin="round" stroke-linecap="round"><path d="M1110.9 841.7 L1111.7 841.7 L1112.6 841.7 L1113.4 841.6 L1114.2 841.6 L1115.0 841.6 L1115.9 841.6 L1116.7 841.6 L1117.5 841.6 L1118.4 841.6 L1119.2 841.5 L1120.0 841.5 L1120.9 841.5 L1121.7 841.5 L1122.5 841.5 L1123.4 841.5 L1124.2 841.4 L1125.0 841.4 L1125.9 841.4 L1126.7 841.4 L1127.5 841.4 L1128.4 841.3 L1129.2 841.3 L1130.0 841.3 L1130.8 841.3 L1131.7 841.3 L1132.5 841.2 L1133.3 841.2 L1134.2 841.2 L1135.0 841.2 L1135.8 841.2 L1136.7 841.1 L1137.5 841.1 L1138.3 841.1 L1139.2 841.1 L1140.0 841.0 L1140.8 841.0 L1141.7 841.0 L1142.5 841.0 L1143.3 841.0 L1144.2 840.9 L1145.0 840.9 L1145.8 840.9 L1146.7 840.9 L1147.5 840.8 L1148.3 840.8 L1149.1 840.8 L1150.0 840.7 L1150.8 840.7 L1151.6 840.7 L1152.5 840.7 L1153.3 840.6 L1154.1 840.6 L1155.0 840.6 L1155.8 840.6 L1156.6 840.5 L1157.5 840.5 L1158.3 840.5 L1159.1 840.4 L1160.0 840.4 L1160.8 840.4 L1161.6 840.3 L1162.5 840.3 L1163.3 840.3 L1164.1 840.2 L1164.9 840.2 L1165.8 840.2 L1166.6 840.1 L1167.4 840.1 L1168.3 840.1 L1169.1 840.0 L1169.9 840.0 L1170.8 840.0 L1171.6 839.9 L1172.4 839.9 L1173.3 839.8 L1174.1 839.8 L1174.9 839.8 L1175.8 839.7 L1176.6 839.7 L1177.4 839.6 L1178.3 839.6 L1179.1 839.6 L1179.9 839.5 L1180.8 839.5 L1181.6 839.4 L1182.4 839.4 L1183.2 839.3 L1184.1 839.3 L1184.9 839.2 L1185.7 839.2 L1186.6 839.1 L1187.4 839.1 L1188.2 839.1 L1189.1 839.0 L1189.9 839.0 L1190.7 838.9 L1191.6 838.9 L1192.4 838.8 L1193.2 838.7 L1194.1 838.7 L1194.9 838.6 L1195.7 838.6 L1196.6 838.5 L1197.4 838.5 L1198.2 838.4 L1199.0 838.4 L1199.9 838.3 L1200.7 838.2 L1201.5 838.2 L1202.4 838.1 L1203.2 838.1 L1204.0 838.0 L1204.9 837.9 L1205.7 837.9 L1206.5 837.8 L1207.4 837.7 L1208.2 837.7 L1209.0 837.6 L1209.9 837.5 L1210.7 837.5 L1211.5 837.4 L1212.4 837.3 L1213.2 837.2 L1214.0 837.2 L1214.8 837.1 L1215.7 837.0 L1216.5 836.9 L1217.3 836.9 L1218.2 836.8 L1219.0 836.7 L1219.8 836.6 L1220.7 836.5 L1221.5 836.5 L1222.3 836.4 L1223.2 836.3 L1224.0 836.2 L1224.8 836.1 L1225.7 836.0 L1226.5 835.9 L1227.3 835.9 L1228.2 835.8 L1229.0 835.7 L1229.8 835.6 L1230.6 835.5 L1231.5 835.4 L1232.3 835.3 L1233.1 835.2 L1234.0 835.1 L1234.8 835.0 L1235.6 834.9 L1236.5 834.8 L1237.3 834.7 L1238.1 834.6 L1239.0 834.5 L1239.8 834.3 L1240.6 834.2 L1241.5 834.1 L1242.3 834.0 L1243.1 833.9 L1244.0 833.8 L1244.8 833.6 L1245.6 833.5 L1246.5 833.4 L1247.3 833.3 L1248.1 833.2 L1248.9 833.0 L1249.8 832.9 L1250.6 832.8 L1251.4 832.6 L1252.3 832.5 L1253.1 832.4 L1253.9 832.2 L1254.8 832.1 L1255.6 831.9 L1256.4 831.8 L1257.3 831.7 L1258.1 831.5 L1258.9 831.4 L1259.8 831.2 L1260.6 831.0 L1261.4 830.9 L1262.3 830.7 L1263.1 830.6 L1263.9 830.4 L1264.7 830.3 L1265.6 830.1 L1266.4 829.9 L1267.2 829.7 L1268.1 829.6 L1268.9 829.4 L1269.7 829.2 L1270.6 829.0 L1271.4 828.9 L1272.2 828.7 L1273.1 828.5 L1273.9 828.3 L1274.7 828.1 L1275.6 827.9 L1276.4 827.7 L1277.2 827.5 L1278.1 827.3 L1278.9 827.1 L1279.7 826.9 L1280.5 826.7 L1281.4 826.5 L1282.2 826.3 L1283.0 826.0 L1283.9 825.8 L1284.7 825.6 L1285.5 825.4 L1286.4 825.1 L1287.2 824.9 L1288.0 824.7 L1288.9 824.4 L1289.7 824.2 L1290.5 823.9 L1291.4 823.7 L1292.2 823.4 L1293.0 823.2 L1293.9 822.9 L1294.7 822.7 L1295.5 822.4 L1296.4 822.1 L1297.2 821.8 L1298.0 821.6 L1298.8 821.3 L1299.7 821.0 L1300.5 820.7 L1301.3 820.4 L1302.2 820.1 L1303.0 819.8 L1303.8 819.5 L1304.7 819.2 L1305.5 818.9 L1306.3 818.6 L1307.2 818.3 L1308.0 817.9 L1308.8 817.6 L1309.7 817.3 L1310.5 816.9 L1311.3 816.6 L1312.2 816.2 L1313.0 815.9 L1313.8 815.5 L1314.6 815.2 L1315.5 814.8 L1316.3 814.4 L1317.1 814.1 L1318.0 813.7 L1318.8 813.3 L1319.6 812.9 L1320.5 812.5 L1321.3 812.1 L1322.1 811.7 L1323.0 811.3 L1323.8 810.9 L1324.6 810.5 L1325.5 810.0 L1326.3 809.6 L1327.1 809.1 L1328.0 808.7 L1328.8 808.3 L1329.6 807.8 L1330.5 807.3 L1331.3 806.9 L1332.1 806.4 L1332.9 805.9 L1333.8 805.4 L1334.6 804.9 L1335.4 804.4 L1336.3 803.9 L1337.1 803.4 L1337.9 802.9 L1338.8 802.3 L1339.6 801.8 L1340.4 801.3 L1341.3 800.7 L1342.1 800.2 L1342.9 799.6 L1343.8 799.0 L1344.6 798.4 L1345.4 797.9 L1346.3 797.3 L1347.1 796.7 L1347.9 796.0 L1348.7 795.4 L1349.6 794.8 L1350.4 794.2 L1351.2 793.5 L1352.1 792.9 L1352.9 792.2 L1353.7 791.5 L1354.6 790.9 L1355.4 790.2 L1356.2 789.5 L1357.1 788.8 L1357.9 788.0 L1358.7 787.3 L1359.6 786.6 L1360.4 785.8 L1361.1 785.3 L1365.4 545.8 L1365.4 545.8 L1366.2 546.4 L1367.0 547.0 L1367.9 547.6 L1368.7 548.2 L1369.5 548.8 L1370.4 549.4 L1371.2 549.9 L1372.0 550.5 L1372.9 551.0 L1373.7 551.5 L1374.5 552.0 L1375.4 552.5 L1376.2 553.0 L1377.0 553.5 L1377.9 553.9 L1378.7 554.3 L1379.5 554.8 L1380.3 555.2 L1381.2 555.6 L1382.0 556.0 L1382.8 556.3 L1383.7 556.7 L1384.5 557.0 L1385.3 557.4 L1386.2 557.7 L1387.0 558.0 L1387.8 558.3 L1388.7 558.5 L1389.5 558.8 L1390.3 559.1 L1391.2 559.3 L1392.0 559.5 L1392.8 559.7 L1393.7 559.9 L1394.5 560.1 L1395.3 560.3 L1396.2 560.4 L1397.0 560.6 L1397.8 560.7 L1398.6 560.8 L1399.5 560.9 L1400.3 561.0 L1401.1 561.1 L1402.0 561.1 L1402.8 561.2 L1403.6 561.2 L1404.5 561.2 L1405.3 561.2 L1406.1 561.2 L1407.0 561.2 L1407.8 561.2 L1408.6 561.1 L1409.5 561.1 L1410.3 561.0 L1411.1 560.9 L1412.0 560.8 L1412.8 560.7 L1413.6 560.6 L1414.4 560.4 L1415.3 560.3 L1416.1 560.1 L1416.9 559.9 L1417.8 559.7 L1418.6 559.5 L1419.4 559.3 L1420.3 559.1 L1421.1 558.8 L1421.9 558.5 L1422.8 558.3 L1423.6 558.0 L1424.4 557.7 L1425.3 557.4 L1426.1 557.0 L1426.9 556.7 L1427.8 556.3 L1428.6 556.0 L1429.4 555.6 L1430.2 555.2 L1431.1 554.8 L1431.9 554.3 L1432.7 553.9 L1433.6 553.5 L1434.4 553.0 L1435.2 552.5 L1436.1 552.0 L1436.9 551.5 L1437.7 551.0 L1438.6 550.5 L1439.4 549.9 L1440.2 549.4 L1441.1 548.8 L1441.9 548.2 L1442.7 547.6 L1443.6 547.0 L1444.4 546.4 L1445.2 545.8 L1445.2 545.8 L1449.5 785.3 L1450.2 785.8 L1451.0 786.6 L1451.9 787.3 L1452.7 788.0 L1453.5 788.8 L1454.4 789.5 L1455.2 790.2 L1456.0 790.9 L1456.9 791.5 L1457.7 792.2 L1458.5 792.9 L1459.4 793.5 L1460.2 794.2 L1461.0 794.8 L1461.9 795.4 L1462.7 796.0 L1463.5 796.7 L1464.3 797.3 L1465.2 797.9 L1466.0 798.4 L1466.8 799.0 L1467.7 799.6 L1468.5 800.2 L1469.3 800.7 L1470.2 801.3 L1471.0 801.8 L1471.8 802.3 L1472.7 802.9 L1473.5 803.4 L1474.3 803.9 L1475.2 804.4 L1476.0 804.9 L1476.8 805.4 L1477.7 805.9 L1478.5 806.4 L1479.3 806.9 L1480.1 807.3 L1481.0 807.8 L1481.8 808.3 L1482.6 808.7 L1483.5 809.1 L1484.3 809.6 L1485.1 810.0 L1486.0 810.5 L1486.8 810.9 L1487.6 811.3 L1488.5 811.7 L1489.3 812.1 L1490.1 812.5 L1491.0 812.9 L1491.8 813.3 L1492.6 813.7 L1493.5 814.1 L1494.3 814.4 L1495.1 814.8 L1496.0 815.2 L1496.8 815.5 L1497.6 815.9 L1498.4 816.2 L1499.3 816.6 L1500.1 816.9 L1500.9 817.3 L1501.8 817.6 L1502.6 817.9 L1503.4 818.3 L1504.3 818.6 L1505.1 818.9 L1505.9 819.2 L1506.8 819.5 L1507.6 819.8 L1508.4 820.1 L1509.3 820.4 L1510.1 820.7 L1510.9 821.0 L1511.8 821.3 L1512.6 821.6 L1513.4 821.8 L1514.2 822.1 L1515.1 822.4 L1515.9 822.7 L1516.7 822.9 L1517.6 823.2 L1518.4 823.4 L1519.2 823.7 L1520.1 823.9 L1520.9 824.2 L1521.7 824.4 L1522.6 824.7 L1523.4 824.9 L1524.2 825.1 L1525.1 825.4 L1525.9 825.6 L1526.7 825.8 L1527.6 826.0 L1528.4 826.3 L1529.2 826.5 L1530.0 826.7 L1530.9 826.9 L1531.7 827.1 L1532.5 827.3 L1533.4 827.5 L1534.2 827.7 L1535.0 827.9 L1535.9 828.1 L1536.7 828.3 L1537.5 828.5 L1538.4 828.7 L1539.2 828.9 L1540.0 829.0 L1540.9 829.2 L1541.7 829.4 L1542.5 829.6 L1543.4 829.7 L1544.2 829.9 L1545.0 830.1 L1545.9 830.3 L1546.7 830.4 L1547.5 830.6 L1548.3 830.7 L1549.2 830.9 L1550.0 831.0 L1550.8 831.2 L1551.7 831.4 L1552.5 831.5 L1553.3 831.7 L1554.2 831.8 L1555.0 831.9 L1555.8 832.1 L1556.7 832.2 L1557.5 832.4 L1558.3 832.5 L1559.2 832.6 L1560.0 832.8 L1560.8 832.9 L1561.7 833.0 L1562.5 833.2 L1563.3 833.3 L1564.1 833.4 L1565.0 833.5 L1565.8 833.6 L1566.6 833.8 L1567.5 833.9 L1568.3 834.0 L1569.1 834.1 L1570.0 834.2 L1570.8 834.3 L1571.6 834.5 L1572.5 834.6 L1573.3 834.7 L1574.1 834.8 L1575.0 834.9 L1575.8 835.0 L1576.6 835.1 L1577.5 835.2 L1578.3 835.3 L1579.1 835.4 L1580.0 835.5 L1580.8 835.6 L1581.6 835.7 L1582.4 835.8 L1583.3 835.9 L1584.1 835.9 L1584.9 836.0 L1585.8 836.1 L1586.6 836.2 L1587.4 836.3 L1588.3 836.4 L1589.1 836.5 L1589.9 836.5 L1590.8 836.6 L1591.6 836.7 L1592.4 836.8 L1593.3 836.9 L1594.1 836.9 L1594.9 837.0 L1595.8 837.1 L1596.6 837.2 L1597.4 837.2 L1598.2 837.3 L1599.1 837.4 L1599.9 837.5 L1600.7 837.5 L1601.6 837.6 L1602.4 837.7 L1603.2 837.7 L1604.1 837.8 L1604.9 837.9 L1605.7 837.9 L1606.6 838.0 L1607.4 838.1 L1608.2 838.1 L1609.1 838.2 L1609.9 838.2 L1610.7 838.3 L1611.6 838.4 L1612.4 838.4 L1613.2 838.5 L1614.0 838.5 L1614.9 838.6 L1615.7 838.6 L1616.5 838.7 L1617.4 838.7 L1618.2 838.8 L1619.0 838.9 L1619.9 838.9 L1620.7 839.0 L1621.5 839.0 L1622.4 839.1 L1623.2 839.1 L1624.0 839.1 L1624.9 839.2 L1625.7 839.2 L1626.5 839.3 L1627.4 839.3 L1628.2 839.4 L1629.0 839.4 L1629.8 839.5 L1630.7 839.5 L1631.5 839.6 L1632.3 839.6 L1633.2 839.6 L1634.0 839.7 L1634.8 839.7 L1635.7 839.8 L1636.5 839.8 L1637.3 839.8 L1638.2 839.9 L1639.0 839.9 L1639.8 840.0 L1640.7 840.0 L1641.5 840.0 L1642.3 840.1 L1643.2 840.1 L1644.0 840.1 L1644.8 840.2 L1645.7 840.2 L1646.5 840.2 L1647.3 840.3 L1648.1 840.3 L1649.0 840.3 L1649.8 840.4 L1650.6 840.4 L1651.5 840.4 L1652.3 840.5 L1653.1 840.5 L1654.0 840.5 L1654.8 840.6 L1655.6 840.6 L1656.5 840.6 L1657.3 840.6 L1658.1 840.7 L1659.0 840.7 L1659.8 840.7 L1660.6 840.7 L1661.5 840.8 L1662.3 840.8 L1663.1 840.8 L1663.9 840.9 L1664.8 840.9 L1665.6 840.9 L1666.4 840.9 L1667.3 841.0 L1668.1 841.0 L1668.9 841.0 L1669.8 841.0 L1670.6 841.0 L1671.4 841.1 L1672.3 841.1 L1673.1 841.1 L1673.9 841.1 L1674.8 841.2 L1675.6 841.2 L1676.4 841.2 L1677.3 841.2 L1678.1 841.2 L1678.9 841.3 L1679.8 841.3 L1680.6 841.3 L1681.4 841.3 L1682.2 841.3 L1683.1 841.4 L1683.9 841.4 L1684.7 841.4 L1685.6 841.4 L1686.4 841.4 L1687.2 841.5 L1688.1 841.5 L1688.9 841.5 L1689.7 841.5 L1690.6 841.5 L1691.4 841.5 L1692.2 841.6 L1693.1 841.6 L1693.9 841.6 L1694.7 841.6 L1695.6 841.6 L1696.4 841.6 L1697.2 841.6 L1698.0 841.7 L1698.9 841.7 L1699.7 841.7" stroke="#00ff00" stroke-width="4.9"/><path d="M1110.9 843.5 L1111.7 843.5 L1112.6 843.5 L1113.4 843.5 L1114.2 843.4 L1115.0 843.4 L1115.9 843.4 L1116.7 843.4 L1117.5 843.4 L1118.4 843.4 L1119.2 843.4 L1120.0 843.4 L1120.9 843.4 L1121.7 843.4 L1122.5 843.4 L1123.4 843.4 L1124.2 843.4 L1125.0 843.4 L1125.9 843.4 L1126.7 843.4 L1127.5 843.4 L1128.4 843.4 L1129.2 843.4 L1130.0 843.4 L1130.8 843.4 L1131.7 843.4 L1132.5 843.3 L1133.3 843.3 L1134.2 843.3 L1135.0 843.3 L1135.8 843.3 L1136.7 843.3 L1137.5 843.3 L1138.3 843.3 L1139.2 843.3 L1140.0 843.3 L1140.8 843.3 L1141.7 843.3 L1142.5 843.3 L1143.3 843.3 L1144.2 843.3 L1145.0 843.3 L1145.8 843.2 L1146.7 843.2 L1147.5 843.2 L1148.3 843.2 L1149.1 843.2 L1150.0 843.2 L1150.8 843.2 L1151.6 843.2 L1152.5 843.2 L1153.3 843.2 L1154.1 843.2 L1155.0 843.2 L1155.8 843.2 L1156.6 843.1 L1157.5 843.1 L1158.3 843.1 L1159.1 843.1 L1160.0 843.1 L1160.8 843.1 L1161.6 843.1 L1162.5 843.1 L1163.3 843.1 L1164.1 843.1 L1164.9 843.0 L1165.8 843.0 L1166.6 843.0 L1167.4 843.0 L1168.3 843.0 L1169.1 843.0 L1169.9 843.0 L1170.8 843.0 L1171.6 843.0 L1172.4 842.9 L1173.3 842.9 L1174.1 842.9 L1174.9 842.9 L1175.8 842.9 L1176.6 842.9 L1177.4 842.9 L1178.3 842.9 L1179.1 842.8 L1179.9 842.8 L1180.8 842.8 L1181.6 842.8 L1182.4 842.8 L1183.2 842.8 L1184.1 842.8 L1184.9 842.7 L1185.7 842.7 L1186.6 842.7 L1187.4 842.7 L1188.2 842.7 L1189.1 842.7 L1189.9 842.7 L1190.7 842.6 L1191.6 842.6 L1192.4 842.6 L1193.2 842.6 L1194.1 842.6 L1194.9 842.6 L1195.7 842.5 L1196.6 842.5 L1197.4 842.5 L1198.2 842.5 L1199.0 842.5 L1199.9 842.4 L1200.7 842.4 L1201.5 842.4 L1202.4 842.4 L1203.2 842.4 L1204.0 842.3 L1204.9 842.3 L1205.7 842.3 L1206.5 842.3 L1207.4 842.3 L1208.2 842.2 L1209.0 842.2 L1209.9 842.2 L1210.7 842.2 L1211.5 842.2 L1212.4 842.1 L1213.2 842.1 L1214.0 842.1 L1214.8 842.1 L1215.7 842.0 L1216.5 842.0 L1217.3 842.0 L1218.2 842.0 L1219.0 841.9 L1219.8 841.9 L1220.7 841.9 L1221.5 841.9 L1222.3 841.8 L1223.2 841.8 L1224.0 841.8 L1224.8 841.8 L1225.7 841.7 L1226.5 841.7 L1227.3 841.7 L1228.2 841.6 L1229.0 841.6 L1229.8 841.6 L1230.6 841.6 L1231.5 841.5 L1232.3 841.5 L1233.1 841.5 L1234.0 841.4 L1234.8 841.4 L1235.6 841.4 L1236.5 841.3 L1237.3 841.3 L1238.1 841.3 L1239.0 841.3 L1239.8 841.2 L1240.6 841.2 L1241.5 841.2 L1242.3 841.1 L1243.1 841.1 L1244.0 841.1 L1244.8 841.0 L1245.6 841.0 L1246.5 840.9 L1247.3 840.9 L1248.1 840.9 L1248.9 840.8 L1249.8 840.8 L1250.6 840.8 L1251.4 840.7 L1252.3 840.7 L1253.1 840.7 L1253.9 840.6 L1254.8 840.6 L1255.6 840.5 L1256.4 840.5 L1257.3 840.5 L1258.1 840.4 L1258.9 840.4 L1259.8 840.3 L1260.6 840.3 L1261.4 840.3 L1262.3 840.2 L1263.1 840.2 L1263.9 840.1 L1264.7 840.1 L1265.6 840.1 L1266.4 840.0 L1267.2 840.0 L1268.1 839.9 L1268.9 839.9 L1269.7 839.8 L1270.6 839.8 L1271.4 839.8 L1272.2 839.7 L1273.1 839.7 L1273.9 839.6 L1274.7 839.6 L1275.6 839.5 L1276.4 839.5 L1277.2 839.4 L1278.1 839.4 L1278.9 839.4 L1279.7 839.3 L1280.5 839.3 L1281.4 839.2 L1282.2 839.2 L1283.0 839.1 L1283.9 839.1 L1284.7 839.0 L1285.5 839.0 L1286.4 838.9 L1287.2 838.9 L1288.0 838.8 L1288.9 838.8 L1289.7 838.7 L1290.5 838.7 L1291.4 838.6 L1292.2 838.6 L1293.0 838.5 L1293.9 838.5 L1294.7 838.5 L1295.5 838.4 L1296.4 838.4 L1297.2 838.3 L1298.0 838.3 L1298.8 838.2 L1299.7 838.2 L1300.5 838.1 L1301.3 838.1 L1302.2 838.0 L1303.0 838.0 L1303.8 837.9 L1304.7 837.9 L1305.5 837.8 L1306.3 837.8 L1307.2 837.7 L1308.0 837.7 L1308.8 837.6 L1309.7 837.6 L1310.5 837.5 L1311.3 837.5 L1312.2 837.4 L1313.0 837.4 L1313.8 837.3 L1314.6 837.3 L1315.5 837.3 L1316.3 837.2 L1317.1 837.2 L1318.0 837.1 L1318.8 837.1 L1319.6 837.0 L1320.5 837.0 L1321.3 837.0 L1322.1 836.9 L1323.0 836.9 L1323.8 836.8 L1324.6 836.8 L1325.5 836.8 L1326.3 836.7 L1327.1 836.7 L1328.0 836.6 L1328.8 836.6 L1329.6 836.6 L1330.5 836.6 L1331.3 836.5 L1332.1 836.5 L1332.9 836.5 L1333.8 836.4 L1334.6 836.4 L1335.4 836.4 L1336.3 836.4 L1337.1 836.4 L1337.9 836.4 L1338.8 836.4 L1339.6 836.4 L1340.4 836.4 L1341.3 836.4 L1342.1 836.4 L1342.9 836.5 L1343.8 836.5 L1344.6 836.5 L1345.4 836.6 L1346.3 836.7 L1347.1 836.7 L1347.9 836.8 L1348.7 836.9 L1349.6 837.1 L1350.4 837.2 L1351.2 837.4 L1352.1 837.5 L1352.9 837.7 L1353.7 838.0 L1354.6 838.2 L1355.4 838.5 L1356.2 838.8 L1357.1 839.2 L1357.9 839.6 L1358.7 840.1 L1359.6 840.6 L1360.4 841.2 L1361.1 841.8 L1366.4 648.9 L1367.0 648.9 L1367.9 648.9 L1368.7 649.0 L1369.5 649.1 L1370.4 649.2 L1371.2 649.4 L1372.0 649.6 L1372.9 649.8 L1373.7 650.1 L1374.5 650.3 L1375.4 650.6 L1376.2 651.0 L1377.0 651.3 L1377.9 651.7 L1378.7 652.1 L1379.5 652.5 L1380.3 653.0 L1381.2 653.4 L1382.0 653.9 L1382.8 654.3 L1383.7 654.8 L1384.5 655.3 L1385.3 655.8 L1386.2 656.3 L1387.0 656.8 L1387.8 657.3 L1388.7 657.8 L1389.5 658.3 L1390.3 658.7 L1391.2 659.2 L1392.0 659.6 L1392.8 660.1 L1393.7 660.5 L1394.5 660.9 L1395.3 661.2 L1396.2 661.6 L1397.0 661.9 L1397.8 662.2 L1398.6 662.5 L1399.5 662.7 L1400.3 662.9 L1401.1 663.1 L1402.0 663.2 L1402.8 663.4 L1403.6 663.4 L1404.5 663.5 L1405.3 663.5 L1406.1 663.5 L1407.0 663.4 L1407.8 663.4 L1408.6 663.2 L1409.5 663.1 L1410.3 662.9 L1411.1 662.7 L1412.0 662.5 L1412.8 662.2 L1413.6 661.9 L1414.4 661.6 L1415.3 661.2 L1416.1 660.9 L1416.9 660.5 L1417.8 660.1 L1418.6 659.6 L1419.4 659.2 L1420.3 658.7 L1421.1 658.3 L1421.9 657.8 L1422.8 657.3 L1423.6 656.8 L1424.4 656.3 L1425.3 655.8 L1426.1 655.3 L1426.9 654.8 L1427.8 654.3 L1428.6 653.9 L1429.4 653.4 L1430.2 653.0 L1431.1 652.5 L1431.9 652.1 L1432.7 651.7 L1433.6 651.3 L1434.4 651.0 L1435.2 650.6 L1436.1 650.3 L1436.9 650.1 L1437.7 649.8 L1438.6 649.6 L1439.4 649.4 L1440.2 649.2 L1441.1 649.1 L1441.9 649.0 L1442.7 648.9 L1443.6 648.9 L1444.2 648.9 L1449.5 841.8 L1450.2 841.2 L1451.0 840.6 L1451.9 840.1 L1452.7 839.6 L1453.5 839.2 L1454.4 838.8 L1455.2 838.5 L1456.0 838.2 L1456.9 838.0 L1457.7 837.7 L1458.5 837.5 L1459.4 837.4 L1460.2 837.2 L1461.0 837.1 L1461.9 836.9 L1462.7 836.8 L1463.5 836.7 L1464.3 836.7 L1465.2 836.6 L1466.0 836.5 L1466.8 836.5 L1467.7 836.5 L1468.5 836.4 L1469.3 836.4 L1470.2 836.4 L1471.0 836.4 L1471.8 836.4 L1472.7 836.4 L1473.5 836.4 L1474.3 836.4 L1475.2 836.4 L1476.0 836.4 L1476.8 836.4 L1477.7 836.5 L1478.5 836.5 L1479.3 836.5 L1480.1 836.6 L1481.0 836.6 L1481.8 836.6 L1482.6 836.6 L1483.5 836.7 L1484.3 836.7 L1485.1 836.8 L1486.0 836.8 L1486.8 836.8 L1487.6 836.9 L1488.5 836.9 L1489.3 837.0 L1490.1 837.0 L1491.0 837.0 L1491.8 837.1 L1492.6 837.1 L1493.5 837.2 L1494.3 837.2 L1495.1 837.3 L1496.0 837.3 L1496.8 837.3 L1497.6 837.4 L1498.4 837.4 L1499.3 837.5 L1500.1 837.5 L1500.9 837.6 L1501.8 837.6 L1502.6 837.7 L1503.4 837.7 L1504.3 837.8 L1505.1 837.8 L1505.9 837.9 L1506.8 837.9 L1507.6 838.0 L1508.4 838.0 L1509.3 838.1 L1510.1 838.1 L1510.9 838.2 L1511.8 838.2 L1512.6 838.3 L1513.4 838.3 L1514.2 838.4 L1515.1 838.4 L1515.9 838.5 L1516.7 838.5 L1517.6 838.5 L1518.4 838.6 L1519.2 838.6 L1520.1 838.7 L1520.9 838.7 L1521.7 838.8 L1522.6 838.8 L1523.4 838.9 L1524.2 838.9 L1525.1 839.0 L1525.9 839.0 L1526.7 839.1 L1527.6 839.1 L1528.4 839.2 L1529.2 839.2 L1530.0 839.3 L1530.9 839.3 L1531.7 839.4 L1532.5 839.4 L1533.4 839.4 L1534.2 839.5 L1535.0 839.5 L1535.9 839.6 L1536.7 839.6 L1537.5 839.7 L1538.4 839.7 L1539.2 839.8 L1540.0 839.8 L1540.9 839.8 L1541.7 839.9 L1542.5 839.9 L1543.4 840.0 L1544.2 840.0 L1545.0 840.1 L1545.9 840.1 L1546.7 840.1 L1547.5 840.2 L1548.3 840.2 L1549.2 840.3 L1550.0 840.3 L1550.8 840.3 L1551.7 840.4 L1552.5 840.4 L1553.3 840.5 L1554.2 840.5 L1555.0 840.5 L1555.8 840.6 L1556.7 840.6 L1557.5 840.7 L1558.3 840.7 L1559.2 840.7 L1560.0 840.8 L1560.8 840.8 L1561.7 840.8 L1562.5 840.9 L1563.3 840.9 L1564.1 840.9 L1565.0 841.0 L1565.8 841.0 L1566.6 841.1 L1567.5 841.1 L1568.3 841.1 L1569.1 841.2 L1570.0 841.2 L1570.8 841.2 L1571.6 841.3 L1572.5 841.3 L1573.3 841.3 L1574.1 841.3 L1575.0 841.4 L1575.8 841.4 L1576.6 841.4 L1577.5 841.5 L1578.3 841.5 L1579.1 841.5 L1580.0 841.6 L1580.8 841.6 L1581.6 841.6 L1582.4 841.6 L1583.3 841.7 L1584.1 841.7 L1584.9 841.7 L1585.8 841.8 L1586.6 841.8 L1587.4 841.8 L1588.3 841.8 L1589.1 841.9 L1589.9 841.9 L1590.8 841.9 L1591.6 841.9 L1592.4 842.0 L1593.3 842.0 L1594.1 842.0 L1594.9 842.0 L1595.8 842.1 L1596.6 842.1 L1597.4 842.1 L1598.2 842.1 L1599.1 842.2 L1599.9 842.2 L1600.7 842.2 L1601.6 842.2 L1602.4 842.2 L1603.2 842.3 L1604.1 842.3 L1604.9 842.3 L1605.7 842.3 L1606.6 842.3 L1607.4 842.4 L1608.2 842.4 L1609.1 842.4 L1609.9 842.4 L1610.7 842.4 L1611.6 842.5 L1612.4 842.5 L1613.2 842.5 L1614.0 842.5 L1614.9 842.5 L1615.7 842.6 L1616.5 842.6 L1617.4 842.6 L1618.2 842.6 L1619.0 842.6 L1619.9 842.6 L1620.7 842.7 L1621.5 842.7 L1622.4 842.7 L1623.2 842.7 L1624.0 842.7 L1624.9 842.7 L1625.7 842.7 L1626.5 842.8 L1627.4 842.8 L1628.2 842.8 L1629.0 842.8 L1629.8 842.8 L1630.7 842.8 L1631.5 842.8 L1632.3 842.9 L1633.2 842.9 L1634.0 842.9 L1634.8 842.9 L1635.7 842.9 L1636.5 842.9 L1637.3 842.9 L1638.2 842.9 L1639.0 843.0 L1639.8 843.0 L1640.7 843.0 L1641.5 843.0 L1642.3 843.0 L1643.2 843.0 L1644.0 843.0 L1644.8 843.0 L1645.7 843.0 L1646.5 843.1 L1647.3 843.1 L1648.1 843.1 L1649.0 843.1 L1649.8 843.1 L1650.6 843.1 L1651.5 843.1 L1652.3 843.1 L1653.1 843.1 L1654.0 843.1 L1654.8 843.2 L1655.6 843.2 L1656.5 843.2 L1657.3 843.2 L1658.1 843.2 L1659.0 843.2 L1659.8 843.2 L1660.6 843.2 L1661.5 843.2 L1662.3 843.2 L1663.1 843.2 L1663.9 843.2 L1664.8 843.2 L1665.6 843.3 L1666.4 843.3 L1667.3 843.3 L1668.1 843.3 L1668.9 843.3 L1669.8 843.3 L1670.6 843.3 L1671.4 843.3 L1672.3 843.3 L1673.1 843.3 L1673.9 843.3 L1674.8 843.3 L1675.6 843.3 L1676.4 843.3 L1677.3 843.3 L1678.1 843.3 L1678.9 843.4 L1679.8 843.4 L1680.6 843.4 L1681.4 843.4 L1682.2 843.4 L1683.1 843.4 L1683.9 843.4 L1684.7 843.4 L1685.6 843.4 L1686.4 843.4 L1687.2 843.4 L1688.1 843.4 L1688.9 843.4 L1689.7 843.4 L1690.6 843.4 L1691.4 843.4 L1692.2 843.4 L1693.1 843.4 L1693.9 843.4 L1694.7 843.4 L1695.6 843.4 L1696.4 843.4 L1697.2 843.5 L1698.0 843.5 L1698.9 843.5 L1699.7 843.5" stroke="#ff0000" stroke-width="6.1"/></g>
<line x1="1598" y1="453.7" x2="1649" y2="453.7" stroke="#ff0000" stroke-width="6" stroke-linecap="round"/>
<line x1="1598" y1="493" x2="1649" y2="493" stroke="#00ff00" stroke-width="6" stroke-linecap="round"/>
<g font-family="'Liberation Sans', Arial, sans-serif" font-weight="bold" stroke-width="0.45" stroke-linejoin="round" text-rendering="geometricPrecision">
<text transform="translate(16.74 34) scale(1.040 1)" font-size="39.8" fill="#000" stroke="#000">(a)</text>
<text transform="translate(149.53 82.45) scale(0.985 1)" font-size="32.3" fill="#000" stroke="#000">0</text>
<text transform="translate(110.76 156.83) scale(0.996 1)" font-size="33.25" fill="#000" stroke="#000">100</text>
<text transform="translate(111.71 230.13) scale(0.988 1)" font-size="33.25" fill="#000" stroke="#000">200</text>
<text transform="translate(81.33 219.26) rotate(-90) scale(0.980 1)" font-size="37.2" fill="#000" stroke="#000">z (nm)</text>
<text transform="translate(199.96 322.84) scale(1.022 1)" font-size="32.41" fill="#000" stroke="#000">150</text>
<text transform="translate(459.23 322.8) scale(0.985 1)" font-size="32.3" fill="#000" stroke="#000">0</text>
<text transform="translate(676.56 322.84) scale(1.022 1)" font-size="32.41" fill="#000" stroke="#000">150</text>
<text transform="translate(737.08 31.95) scale(1.044 1)" font-size="31.03" fill="#000" stroke="#000" stroke-width="0.1">|E/E<tspan dy="0.278em" font-size="72%" font-weight="normal" stroke-width="0.9">0</tspan><tspan dy="-0.200em">|</tspan></text>
<text transform="translate(804.52 108.85) scale(0.998 1)" font-size="32.56" fill="#000" stroke="#000">24</text>
<text transform="translate(805.78 198.85) scale(1.019 1)" font-size="32.13" fill="#000" stroke="#000">12</text>
<text transform="translate(805.78 289.65) scale(0.985 1)" font-size="32.3" fill="#000" stroke="#000">0</text>
<text transform="translate(654.76 131.83) scale(1.040 1)" font-size="32.1" fill="#fff" stroke="#fff">Cr</text>
<text transform="translate(456.07 218.84) scale(1.055 1)" font-size="31.3" fill="#fff" stroke="#fff">Si</text>
<text transform="translate(584.82 260.13) scale(1.040 1)" font-size="32.1" fill="#fff" stroke="#fff">D = 50 nm</text>
<text transform="translate(9.35 388.6) scale(1.040 1)" font-size="39.8" fill="#000" stroke="#000">(b)</text>
<text transform="translate(146.68 414.8) scale(0.985 1)" font-size="32.3" fill="#000" stroke="#000">0</text>
<text transform="translate(108.26 487.64) scale(1.031 1)" font-size="32.12" fill="#000" stroke="#000">100</text>
<text transform="translate(109.21 562.64) scale(1.023 1)" font-size="32.12" fill="#000" stroke="#000">200</text>
<text transform="translate(78.38 549.11) rotate(-90) scale(0.980 1)" font-size="37.2" fill="#000" stroke="#000">z (nm)</text>
<text transform="translate(198.29 655.65) scale(1.033 1)" font-size="31.56" fill="#000" stroke="#000">150</text>
<text transform="translate(457.43 655.9) scale(0.985 1)" font-size="32.3" fill="#000" stroke="#000">0</text>
<text transform="translate(674.56 655.65) scale(1.047 1)" font-size="31.56" fill="#000" stroke="#000">150</text>
<text transform="translate(801.45 442.05) scale(0.985 1)" font-size="32.3" fill="#000" stroke="#000">4</text>
<text transform="translate(801.49 528.31) scale(0.985 1)" font-size="32.3" fill="#000" stroke="#000">2</text>
<text transform="translate(800.38 614.8) scale(0.985 1)" font-size="32.3" fill="#000" stroke="#000">0</text>
<text transform="translate(565.62 592.14) scale(1.024 1)" font-size="32.54" fill="#fff" stroke="#fff">D = 150 nm</text>
<text transform="translate(8.44 700.7) scale(1.040 1)" font-size="39.8" fill="#000" stroke="#000">(c)</text>
<text transform="translate(145.33 743.35) scale(0.985 1)" font-size="32.3" fill="#000" stroke="#000">0</text>
<text transform="translate(106.56 817.34) scale(1.009 1)" font-size="32.83" fill="#000" stroke="#000">100</text>
<text transform="translate(107.51 890.84) scale(1.017 1)" font-size="32.12" fill="#000" stroke="#000">200</text>
<text transform="translate(76.73 871.71) rotate(-90) scale(0.980 1)" font-size="37.2" fill="#000" stroke="#000">z (nm)</text>
<text transform="translate(196.07 984.14) scale(1.012 1)" font-size="32.55" fill="#000" stroke="#000">150</text>
<text transform="translate(455.38 984.05) scale(0.985 1)" font-size="32.3" fill="#000" stroke="#000">0</text>
<text transform="translate(672.97 984.14) scale(1.014 1)" font-size="32.55" fill="#000" stroke="#000">150</text>
<text transform="translate(404.2 1017.7) scale(1.003 1)" font-size="36.9" fill="#000" stroke="#000">x (nm)</text>
<text transform="translate(802.99 724.95) scale(0.985 1)" font-size="32.3" fill="#000" stroke="#000">6</text>
<text transform="translate(801.85 799.8) scale(0.985 1)" font-size="32.3" fill="#000" stroke="#000">4</text>
<text transform="translate(802.49 875.26) scale(0.985 1)" font-size="32.3" fill="#000" stroke="#000">2</text>
<text transform="translate(802.03 950.1) scale(0.985 1)" font-size="32.3" fill="#000" stroke="#000">0</text>
<text transform="translate(560.61 922.12) scale(1.021 1)" font-size="32.8" fill="#fff" stroke="#fff">D = 200 nm</text>
<text transform="translate(892.7 35.85) scale(1.040 1)" font-size="39.8" fill="#000" stroke="#000">(d)</text>
<text transform="translate(1081.18 138.6) scale(0.985 1)" font-size="32.3" fill="#000" stroke="#000">0</text>
<text transform="translate(1042.5 212.34) scale(0.991 1)" font-size="32.83" fill="#000" stroke="#000">100</text>
<text transform="translate(1043.42 286.84) scale(1.009 1)" font-size="32.12" fill="#000" stroke="#000">200</text>
<text transform="translate(1015.43 264.91) rotate(-90) scale(0.980 1)" font-size="37.2" fill="#000" stroke="#000">z (nm)</text>
<text transform="translate(1131.58 378.84) scale(1.008 1)" font-size="32.55" fill="#000" stroke="#000">150</text>
<text transform="translate(1391.73 378.75) scale(0.985 1)" font-size="32.3" fill="#000" stroke="#000">0</text>
<text transform="translate(1608.76 378.84) scale(1.017 1)" font-size="32.55" fill="#000" stroke="#000">150</text>
<text transform="translate(1667.08 85.86) scale(1.016 1)" font-size="31.88" fill="#000" stroke="#000" stroke-width="0.1">|E/E<tspan dy="0.278em" font-size="72%" font-weight="normal" stroke-width="0.9">0</tspan><tspan dy="-0.200em">|</tspan></text>
<text transform="translate(1732.46 166.35) scale(1.018 1)" font-size="32.56" fill="#000" stroke="#000">12</text>
<text transform="translate(1733.89 254.95) scale(0.985 1)" font-size="32.3" fill="#000" stroke="#000">6</text>
<text transform="translate(1734.18 341.8) scale(0.985 1)" font-size="32.3" fill="#000" stroke="#000">0</text>
<text transform="translate(1499.12 315.45) scale(1.013 1)" font-size="32.98" fill="#fff" stroke="#fff">D = 237 nm</text>
<text transform="translate(1234.64 180.2) scale(0.985 1)" font-size="32.3" fill="#f00812" stroke="#f00812">A</text>
<text transform="translate(1233.98 296.1) scale(0.985 1)" font-size="32.3" fill="#66ff33" stroke="#66ff33">B</text>
<text transform="translate(1655.44 460.8) scale(0.985 1)" font-size="32.3" fill="#ff0000" stroke="#ff0000">A</text>
<text transform="translate(1658.33 500.3) scale(0.985 1)" font-size="32.3" fill="#00ff00" stroke="#00ff00">B</text>
<text transform="translate(1063.88 433.04) scale(0.957 1)" font-size="32.57" fill="#000" stroke="#000">15</text>
<text transform="translate(1063.86 572.85) scale(0.992 1)" font-size="31.84" fill="#000" stroke="#000">10</text>
<text transform="translate(1081.48 713.44) scale(0.985 1)" font-size="32.3" fill="#000" stroke="#000">5</text>
<text transform="translate(1081.33 854) scale(0.985 1)" font-size="32.3" fill="#000" stroke="#000">0</text>
<text transform="translate(1121.58 882.13) scale(1.015 1)" font-size="32.1" fill="#000" stroke="#000">-150</text>
<text transform="translate(1395.53 882.2) scale(0.985 1)" font-size="32.3" fill="#000" stroke="#000">0</text>
<text transform="translate(1626.58 882.14) scale(1.021 1)" font-size="32.12" fill="#000" stroke="#000">150</text>
<text transform="translate(1344.16 931.58) scale(1.023 1)" font-size="39.9" fill="#000" stroke="#000">x (nm)</text>
<text transform="translate(1028.46 725.43) rotate(-90) scale(0.991 1)" font-size="32.84" fill="#000" stroke="#000" stroke-width="0.2">|E/E<tspan dy="0.667em" font-size="60%" font-weight="normal" stroke-width="0.9">0</tspan><tspan dy="-0.400em">| (a.u.)</tspan></text>
</g>
</svg>
</body></html>
